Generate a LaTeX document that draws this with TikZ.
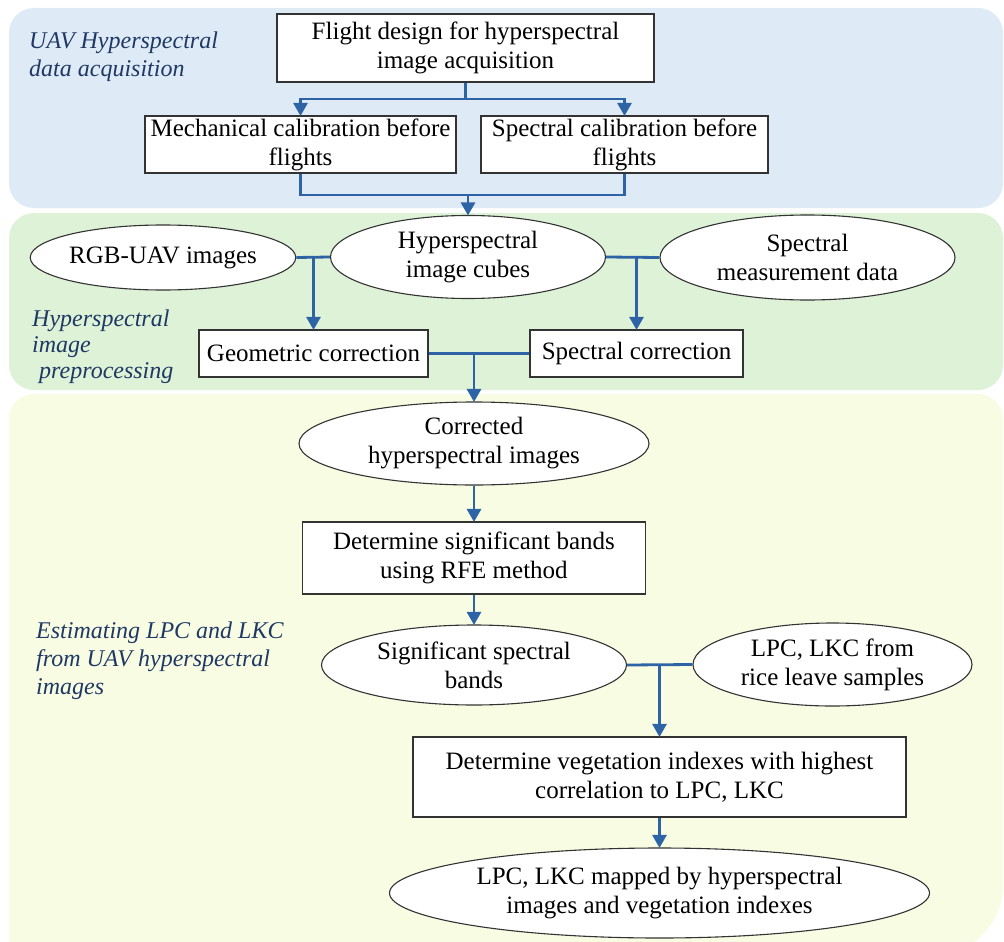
\documentclass[tikz,border=0pt]{standalone}
\usepackage{fontspec}
\setmainfont{Liberation Serif}
\usetikzlibrary{arrows.meta,shapes.geometric}
\definecolor{panelblue}{HTML}{DEEAF6}
\definecolor{panelgreen}{HTML}{DDF2D6}
\definecolor{panelyellow}{HTML}{F8FCE3}
\definecolor{linkblue}{HTML}{2E63A6}
\definecolor{labelnavy}{HTML}{1F3864}
\definecolor{edgegray}{HTML}{333333}
\begin{document}
\begin{tikzpicture}[x=1pt,y=-1pt,
  nodefont/.style={font=\fontsize{25}{29}\selectfont},
  box/.style={nodefont, draw=edgegray, line width=1.1pt, fill=white, align=center, inner sep=0pt, rectangle},
  oval/.style={nodefont, draw=edgegray, line width=1.1pt, fill=white, align=center, inner sep=0pt, ellipse},
  phase/.style={font=\fontsize{24}{28}\selectfont\itshape, text=labelnavy, align=left, inner sep=0pt, anchor=north west},
  link/.style={draw=linkblue, line width=2.8pt},
  arrow/.style={link, -{Triangle[width=14pt,length=13pt]}, shorten >=-0.5pt}
]
\useasboundingbox[fill=white] (0,0) rectangle (1004,942);
% panels
\fill[panelblue, rounded corners=25] (9,8) rectangle (1003,208);
\fill[panelgreen, rounded corners=25] (9,213) rectangle (1003,390);
\fill[panelyellow] (9,955) [rounded corners=25] -- (9,394) -- (1003,394) [rounded corners=70] -- (1003,955) [sharp corners] -- cycle;

% phase labels
\node[phase] (lab1) at (29,32) {UAV Hyperspectral\\data acquisition};
\node[phase, font=\fontsize{24}{26}\selectfont\itshape] (lab2) at (32,310) {Hyperspectral\\image\\\hspace*{7pt}preprocessing};
\node[phase] (lab3) at (36,622) {Estimating LPC and LKC\\from UAV hyperspectral\\images};

% nodes
\node[box, minimum width=377, minimum height=68] (flight) at (465.5,48) {Flight design for hyperspectral\\image acquisition};
\node[box, minimum width=311, minimum height=57] (mech) at (300.5,144.5) {Mechanical calibration before\\flights};
\node[box, minimum width=287, minimum height=57] (specal) at (624.5,144.5) {Spectral calibration before\\flights};

\node[oval, minimum width=265, minimum height=65] (rgb) at (163,257.5) {RGB-UAV images};
\node[oval, minimum width=275, minimum height=83] (hyper) at (468,257) {Hyperspectral\\image cubes};
\node[oval, minimum width=295, minimum height=85] (meas) at (807.5,257.5) {Spectral\\measurement data};

\node[box, minimum width=229, minimum height=47] (geo) at (313.5,353.5) {Geometric correction};
\node[box, minimum width=213, minimum height=47] (specor) at (636.5,353.5) {Spectral correction};

\node[oval, minimum width=350, minimum height=83] (corr) at (474,443.5) {Corrected\\hyperspectral images};
\node[box, minimum width=343, minimum height=72] (rfe) at (474,558) {Determine significant bands\\using RFE method};
\node[oval, minimum width=305, minimum height=80] (sig) at (474,665) {Significant spectral\\bands};
\node[oval, minimum width=279, minimum height=83] (lpc) at (832.5,664.5) {LPC, LKC from\\rice leave samples};
\node[box, minimum width=493, minimum height=80] (veg) at (659.5,777) {Determine vegetation indexes with highest\\correlation to LPC, LKC};
\node[oval, minimum width=540, minimum height=90] (final) at (659.5,893) {LPC, LKC mapped by hyperspectral\\images and vegetation indexes};

% connectors
\draw[link] (flight.south) -- (flight.south |- 0,99);
\draw[arrow] (flight.south |- 0,99) -| (mech.north);
\draw[arrow] (flight.south |- 0,99) -| (specal.north);
\draw[link] (mech.south) -- (mech.south |- 0,195) -- (specal.south |- 0,195) -- (specal.south);
\draw[arrow] (hyper.north |- 0,195) -- (hyper.north);

\draw[link] (rgb.east) -- (hyper.west);
\draw[arrow] (geo.north |- rgb.east) -- (geo.north);
\draw[link] (hyper.east) -- (meas.west);
\draw[arrow] (specor.north |- hyper.east) -- (specor.north);

\draw[link] (geo.east) -- (specor.west);
\draw[arrow] (corr.north |- geo.east) -- (corr.north);
\draw[arrow] (corr.south) -- (rfe.north);
\draw[arrow] (rfe.south) -- (sig.north);
\draw[link] (sig.east) -- (lpc.west);
\draw[arrow] (veg.north |- sig.east) -- (veg.north);
\draw[arrow] (veg.south) -- (final.north);
\end{tikzpicture}
\end{document}
